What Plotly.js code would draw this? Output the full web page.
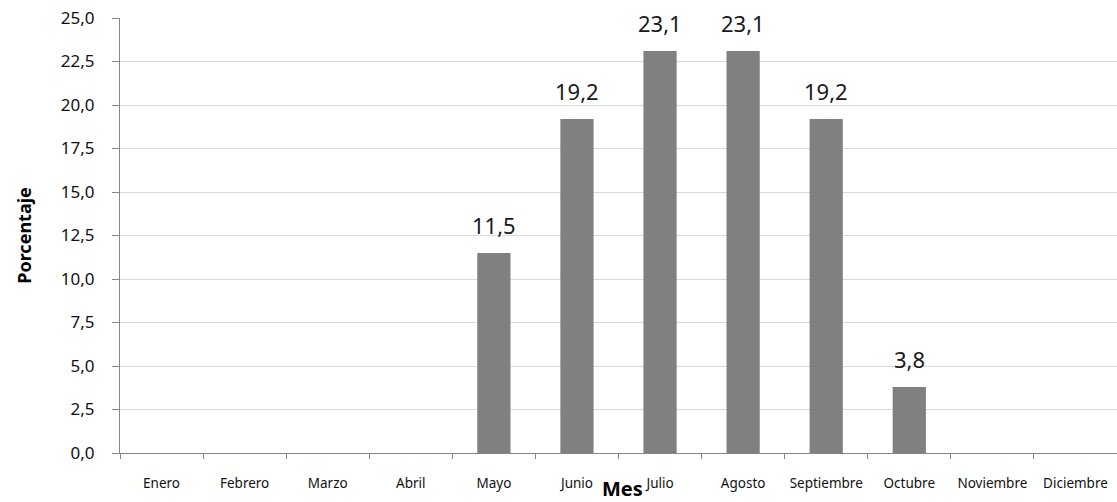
<!DOCTYPE html>
<html>
<head>
<meta charset="utf-8">
<script src="https://cdn.plot.ly/plotly-3.0.1.min.js"></script>
<style>html,body{margin:0;padding:0;background:#fff;}#chart{width:1117px;height:502px;}</style>
</head>
<body>
<div id="chart"></div>
<script>
const months = ["Enero","Febrero","Marzo","Abril","Mayo","Junio","Julio","Agosto","Septiembre","Octubre","Noviembre","Diciembre"];
const porcentaje = [null,null,null,null,11.5,19.2,23.1,23.1,19.2,3.8,null,null];
const yTicks = [0,2.5,5,7.5,10,12.5,15,17.5,20,22.5,25];

const FONT = "Noto Sans, Open Sans, sans-serif";

const trace = {
  type: "bar",
  x: months,
  y: porcentaje,
  marker: {color: "#808080"},
  width: 0.4,
  hoverinfo: "x+y"
};

const valueLabels = [];
months.forEach((m, i) => {
  const v = porcentaje[i];
  if (v === null) return;
  valueLabels.push({
    x: m, y: v, xref: "x", yref: "y",
    text: v.toFixed(1).replace(".", ","),
    showarrow: false, yanchor: "bottom", yshift: 11,
    font: {family: FONT, size: 22, color: "#1a1a1a"}
  });
});

valueLabels.push({
  text: "<b>Mes</b>", xref: "paper", yref: "paper",
  x: 0.5045, y: 0, yshift: -35, yanchor: "middle", showarrow: false,
  borderpad: 0,
  font: {family: FONT, size: 20, color: "#000"}
});

const layout = {
  width: 1117, height: 502,
  margin: {l: 120, r: 0, t: 18, b: 49},
  separators: ",.",
  paper_bgcolor: "#fff", plot_bgcolor: "#fff",
  showlegend: false,
  font: {family: FONT, color: "#000"},
  annotations: valueLabels,
  xaxis: {
    type: "category",
    tickson: "boundaries",
    ticks: "outside", ticklen: 5, tickcolor: "#868686",
    showline: true, linecolor: "#868686", linewidth: 1,
    showgrid: false, zeroline: false,
    tickangle: 0,
    tickfont: {size: 13.5, color: "#111"},
    ticklabelstandoff: 18,
    automargin: false
  },
  yaxis: {
    range: [0, 25],
    tickvals: yTicks,
    tickformat: ".1f",
    ticks: "outside", ticklen: 7, tickcolor: "#868686",
    showline: true, linecolor: "#868686", linewidth: 1,
    showgrid: true, gridcolor: "#d9d9d9", gridwidth: 1,
    zeroline: false,
    tickfont: {size: 17, color: "#111"},
    ticklabelstandoff: 14,
    title: {text: "<b>Porcentaje</b>", font: {size: 18, color: "#000"}, standoff: 24},
    automargin: false
  }
};

Plotly.newPlot("chart", [trace], layout, {displayModeBar: false, staticPlot: true});
</script>
</body>
</html>
